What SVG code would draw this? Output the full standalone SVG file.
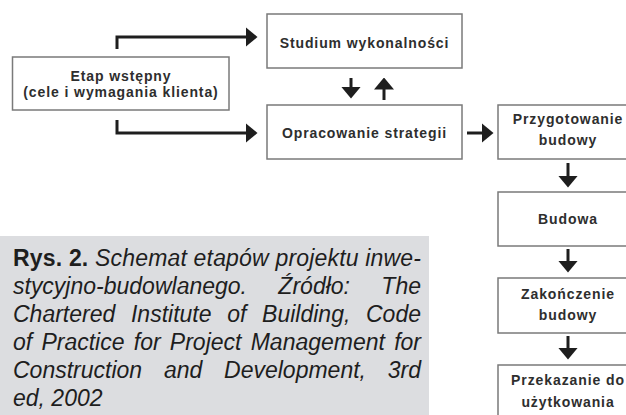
<svg xmlns="http://www.w3.org/2000/svg" width="626" height="415" viewBox="0 0 626 415">
<style>
.box{fill:#fff;stroke:#7a7a7a;stroke-width:1.5}
.lbl{font-family:"Liberation Sans",Arial,sans-serif;font-size:14px;font-weight:bold;fill:#2e2e2e;text-anchor:middle;letter-spacing:0.9px}
.conn{fill:none;stroke:#1e1e1e;stroke-width:3;marker-end:url(#ah)}
.cap{font-family:"Liberation Sans",Arial,sans-serif;font-size:23px;font-style:italic;fill:#1e1e1e}
.capb{font-weight:bold;font-style:normal}
</style>
<defs>
<marker id="ah" viewBox="0 -10 12 20" refX="0.5" refY="0" markerWidth="12" markerHeight="20" markerUnits="userSpaceOnUse" orient="auto">
<path d="M0,-10 L12,0 L0,10 z" fill="#1e1e1e"/>
</marker>
</defs>
<rect width="626" height="415" fill="#fff"/>
<g id="caption">
<rect x="0" y="236" width="429" height="179" fill="#dcdde0"/>
<text class="cap" x="13" y="266" textLength="408" lengthAdjust="spacing"><tspan class="capb">Rys. 2.</tspan> Schemat etapów projektu inwe-</text>
<text class="cap" x="13" y="294" textLength="408" lengthAdjust="spacing" word-spacing="25">stycyjno-budowlanego. Źródło: The</text>
<text class="cap" x="13" y="322" textLength="408" lengthAdjust="spacing" word-spacing="9.3">Chartered Institute of Building, Code</text>
<text class="cap" x="13" y="350" textLength="408" lengthAdjust="spacing" word-spacing="2.9">of Practice for Project Management for</text>
<text class="cap" x="13" y="378" textLength="408" lengthAdjust="spacing" word-spacing="15.4">Construction and Development, 3rd</text>
<text class="cap" x="13" y="406">ed, 2002</text>
</g>
<g id="connectors">
<path class="conn" d="M117,49 V37 H246"/>
<path class="conn" d="M117,120 V133 H246"/>
<path class="conn" d="M351,78 V87"/>
<path class="conn" d="M384,100 V89"/>
<path class="conn" d="M467,133 H482"/>
<path class="conn" d="M568,163 V176"/>
<path class="conn" d="M568,249 V261"/>
<path class="conn" d="M568,336 V348"/>
</g>
<g id="etap">
<rect class="box" x="12.5" y="57" width="216.5" height="53"/>
<text class="lbl" x="121" y="81">Etap wstępny</text>
<text class="lbl" x="121" y="97">(cele i wymagania klienta)</text>
</g>
<g id="studium">
<rect class="box" x="267" y="14" width="195" height="54"/>
<text class="lbl" x="364.5" y="48">Studium wykonalności</text>
</g>
<g id="opracowanie">
<rect class="box" x="267" y="105" width="195" height="54"/>
<text class="lbl" x="364.5" y="138">Opracowanie strategii</text>
</g>
<g id="przygotowanie">
<rect class="box" x="498" y="105" width="140" height="54"/>
<text class="lbl" x="568" y="124">Przygotowanie</text>
<text class="lbl" x="568" y="145">budowy</text>
</g>
<g id="budowa">
<rect class="box" x="498" y="192" width="140" height="54"/>
<text class="lbl" x="568" y="224">Budowa</text>
</g>
<g id="zakonczenie">
<rect class="box" x="498" y="278" width="140" height="55"/>
<text class="lbl" x="568" y="299">Zakończenie</text>
<text class="lbl" x="568" y="320">budowy</text>
</g>
<g id="przekazanie">
<rect class="box" x="498" y="365" width="140" height="60"/>
<text class="lbl" x="568" y="385">Przekazanie do</text>
<text class="lbl" x="568" y="407">użytkowania</text>
</g>
</svg>
